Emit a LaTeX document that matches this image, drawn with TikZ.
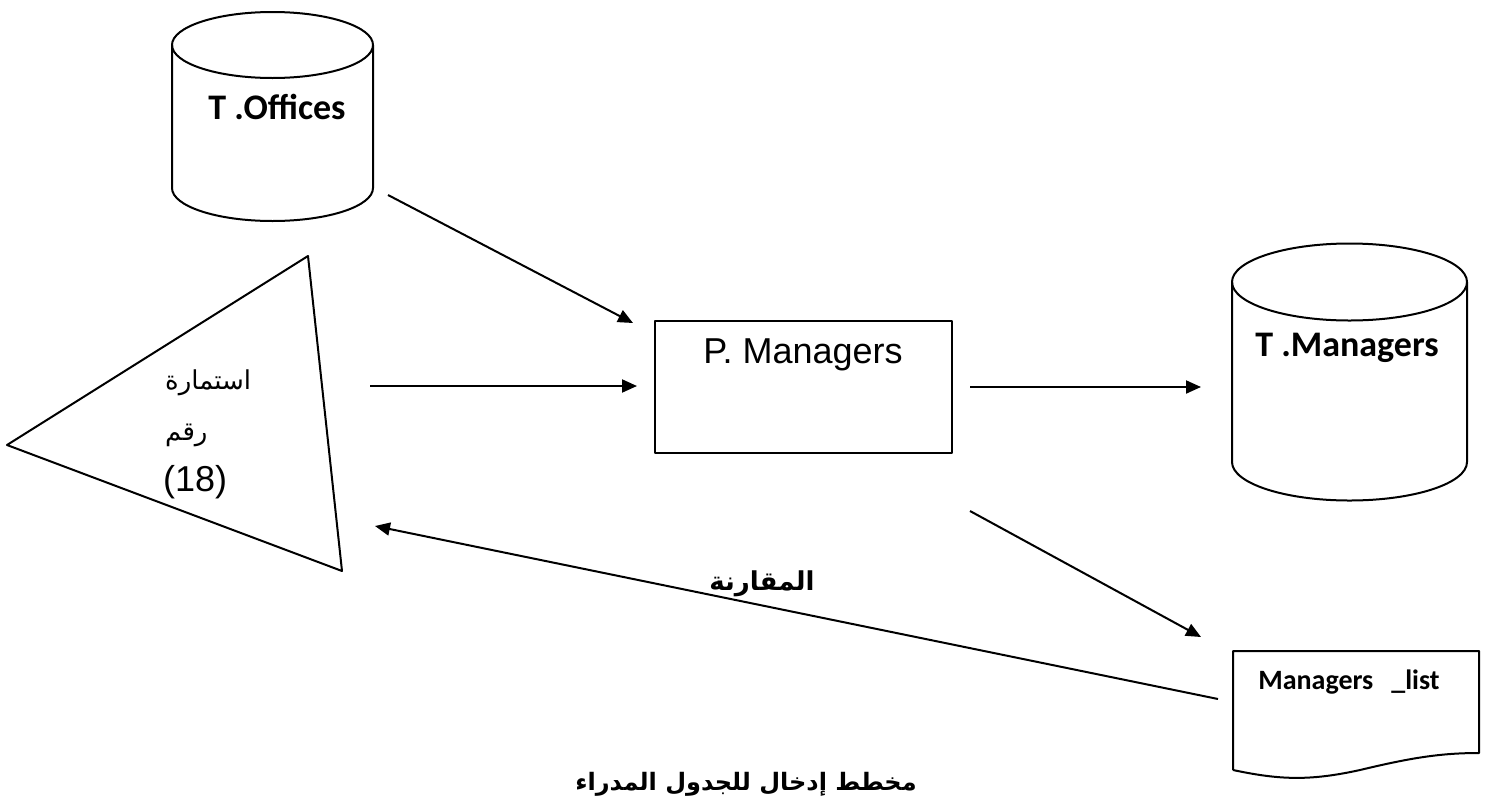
\documentclass[tikz,border=0pt]{standalone}
\usepackage{fontspec}
\setmainfont{Liberation Sans}
\newfontfamily\carlito{Carlito}
\newfontfamily\arabicfont[Script=Arabic]{DejaVu Sans}
\TeXXeTstate=1
\usetikzlibrary{arrows.meta}
\tikzset{
  flow/.style={-{Triangle[length=15pt,width=13pt]}, line width=2pt},
  outline/.style={line width=2pt, line join=round},
  txt/.style={inner sep=0pt},
  dbfont/.style={font=\carlito\bfseries\fontsize{36}{40}\selectfont},
  arfont/.style={font=\arabicfont\fontsize{26}{30}\selectfont},
  arbold/.style={font=\arabicfont\bfseries\fontsize{26}{30}\selectfont},
}
\begin{document}
\begin{tikzpicture}[x=1pt,y=-1pt]
\useasboundingbox (0,0) rectangle (1490,809);

% T.Offices cylinder
\draw[outline] (172,45) -- (172,188) arc[start angle=180,end angle=360,x radius=100.5pt,y radius=33pt] -- (373,45);
\draw[outline] (272.5,45) ellipse [x radius=100.5pt, y radius=33pt];
\node[txt,dbfont] (toff) at (277,107) {T .Offices};

% T.Managers cylinder
\draw[outline] (1232,282) -- (1232,462) arc[start angle=180,end angle=360,x radius=117.5pt,y radius=38.5pt] -- (1467,282);
\draw[outline] (1349.5,282) ellipse [x radius=117.5pt, y radius=38.5pt];
\node[txt,dbfont] (tman) at (1347,348) {T .Managers};

% P. Managers process box
\draw[outline] (655,321) rectangle (952,453);
\node[txt,font=\fontsize{36}{40}\selectfont] (pman) at (803,355) {P. Managers};

% Form triangle
\draw[outline] (308,256) -- (7,445) -- (342,571) -- cycle;
\node[txt,arfont,anchor=west] (f1) at (165,383) {\beginR استمارة\endR};
\node[txt,arfont,anchor=west] (f2) at (165,435) {\beginR رقم\endR};
\node[txt,font=\fontsize{36}{40}\selectfont,anchor=west] (f3) at (163,482) {(18)};

% Document shape
\draw[outline] (1233,770) -- (1233,651) -- (1479,651) -- (1479,753)
  .. controls (1440,753) and (1410,758) .. (1360,770)
  .. controls (1310,781) and (1280,780) .. (1233,770);
\node[txt,font=\carlito\bfseries\fontsize{28}{32}\selectfont] (mlist) at (1349,682) {Managers\hspace{18pt}\_list};

% connector end points
\coordinate (c1s) at (388,195);
\coordinate (c1e) at (633,323);
\coordinate (c2s) at (370,386);
\coordinate (c2e) at (637,386);
\coordinate (c3s) at (970,387);
\coordinate (c3e) at (1201,387);
\coordinate (c4s) at (970,511);
\coordinate (c4e) at (1201,637);
\coordinate (c5s) at (1218,699);
\coordinate (c5e) at (375,526);

\draw[flow] (c1s) -- (c1e);
\draw[flow] (c2s) -- (c2e);
\draw[flow] (c3s) -- (c3e);
\draw[flow] (c4s) -- (c4e);
\draw[flow] (c5s) -- (c5e);

\node[txt,arbold] (cmp) at (762,584) {\beginR المقارنة\endR};
\node[txt,font=\arabicfont\bfseries\fontsize{24}{28}\selectfont] (title) at (746,784) {\beginR مخطط إدخال للجدول المدراء\endR};
\end{tikzpicture}
\end{document}
